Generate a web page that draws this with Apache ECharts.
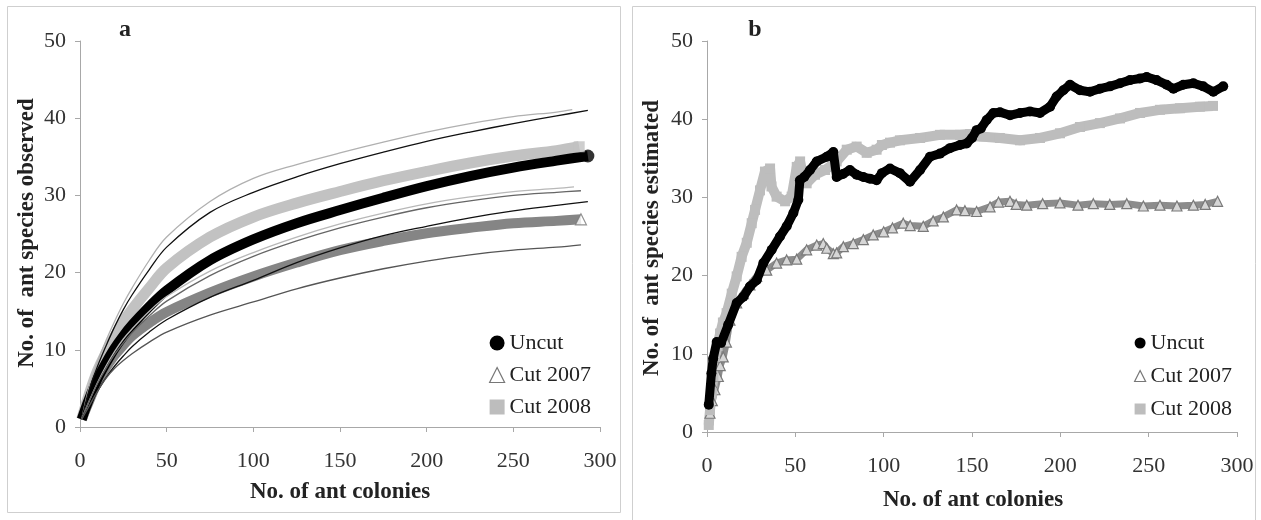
<!DOCTYPE html>
<html>
<head>
<meta charset="utf-8">
<script src="https://cdn.jsdelivr.net/npm/echarts@6/dist/echarts.min.js"></script>
<style>
  html, body { margin: 0; padding: 0; background: #fff; }
  #chart { width: 1261px; height: 520px; }
</style>
</head>
<body>
<div id="chart"></div>
<script>
// ---- panel a: rarefaction curves (observed species) ----
const aColonies = [1, 5, 10, 15, 20, 25, 30, 40, 50, 75, 100, 125, 150, 175, 200, 225, 250, 275]
const aUncutEnd = 293
const aCut2007End = 289
const aCut2008End = 288
const aUncut = [1, 3.5, 6.2, 8.3, 10.2, 11.8, 13.2, 15.6, 17.7, 21.6, 24.3, 26.4, 28.1, 29.7, 31.2, 32.5, 33.6, 34.5, 35.1]
const aCut2008 = [1, 4, 7.2, 9.6, 11.7, 13.6, 15.2, 18.0, 20.6, 24.6, 27.2, 29.0, 30.5, 31.9, 33.1, 34.2, 35.1, 35.8, 36.3]
const aCut2007 = [1, 3.2, 5.8, 7.7, 9.3, 10.6, 11.8, 13.5, 14.9, 17.4, 19.5, 21.3, 22.9, 24.1, 25.1, 25.8, 26.4, 26.7, 26.9]
// confidence limits (end colony count, values)
const aCut2008UpperEnd = 284
const aCut2008Upper = [1, 5, 8.4, 11.2, 13.7, 16.0, 18.0, 21.6, 24.6, 29.2, 32.2, 34.0, 35.5, 36.9, 38.2, 39.3, 40.2, 40.8, 41.1]
const aCut2008LowerEnd = 285
const aCut2008Lower = [1, 3.2, 5.7, 7.9, 9.8, 11.4, 12.7, 15.0, 16.9, 20.2, 22.6, 24.6, 26.3, 27.7, 28.9, 29.8, 30.5, 30.9, 31.1]
const aUncutUpper = [1, 4.6, 7.8, 10.5, 13.0, 15.2, 17.1, 20.4, 23.3, 27.8, 30.4, 32.4, 34.1, 35.6, 37.0, 38.2, 39.3, 40.3, 41.0]
const aUncutLower = [1, 2.6, 4.6, 6.4, 7.9, 9.2, 10.4, 12.3, 13.9, 16.8, 19.0, 21.3, 23.2, 24.8, 26.0, 27.1, 28.0, 28.7, 29.2]
const aCut2007Upper = [1, 3.2, 5.6, 7.6, 9.4, 10.9, 12.2, 14.4, 16.3, 19.6, 22.1, 24.1, 25.8, 27.2, 28.4, 29.3, 30.0, 30.4, 30.6]
const aCut2007Lower = [1, 2.6, 4.6, 6.3, 7.6, 8.6, 9.5, 11.0, 12.3, 14.5, 16.2, 17.9, 19.3, 20.5, 21.5, 22.3, 22.9, 23.3, 23.6]

// ---- panel b: estimated species ----
const bUncutX = [1, 2.5, 3.5, 5.5, 8, 12, 16.8, 20.6, 24.3, 28.1, 31.9, 36.6, 41.3, 45.1, 48.9, 51.7, 52.6, 55, 58.3, 62.1, 67.8, 71.5, 73.4, 77, 80.9, 84.7, 88.5, 92.2, 96, 99, 103.6, 109.2, 114.9, 120.6, 126.2, 131.9, 137.5, 143.2, 147, 150, 152.6, 155, 158.3, 162.1, 165.8, 171.5, 177.2, 182.8, 188.5, 194.2, 197.9, 201.7, 205.5, 211.1, 216.8, 222.4, 228.1, 233.8, 239.4, 245.1, 248.9, 254.5, 260.2, 264, 269.6, 275.3, 280.9, 286.6, 292.2]
const bUncutY = [3.5, 7.5, 9.4, 11.5, 11.4, 13.7, 16.5, 17.3, 18.6, 19.4, 21.6, 23.3, 25.0, 26.3, 28.0, 29.7, 32.2, 32.6, 33.5, 34.6, 35.2, 35.8, 32.6, 33.0, 33.5, 32.9, 32.6, 32.4, 32.2, 33.1, 33.7, 33.1, 32.0, 33.5, 35.2, 35.6, 36.3, 36.7, 36.9, 37.6, 38.6, 38.8, 39.9, 40.8, 40.9, 40.5, 40.8, 41.0, 40.8, 41.6, 42.9, 43.7, 44.4, 43.7, 43.5, 43.9, 44.2, 44.6, 45.0, 45.2, 45.4, 45.0, 44.4, 43.9, 44.4, 44.6, 44.2, 43.5, 44.2]
const bCut2007X = [1.7, 3, 4.5, 6.4, 7.5, 9.2, 11, 13, 16.8, 20.6, 24.3, 28.1, 33.8, 39.4, 45.1, 50.8, 56.4, 62.1, 65.8, 67.8, 71.5, 73.4, 77.2, 82.8, 88.5, 94.1, 100, 105, 111.1, 115, 122.4, 128, 133.8, 141.3, 146, 152.6, 160.2, 165, 171.5, 175, 181, 190, 199.8, 210, 218.7, 228, 237.6, 247, 256.4, 266, 275.3, 282, 289]
const bCut2007Y = [2.4, 4, 5.4, 7.1, 8.5, 9.6, 11.5, 14.3, 16.5, 17.7, 18.8, 19.9, 20.7, 21.6, 22.0, 22.1, 23.3, 23.9, 24.1, 23.5, 22.8, 22.9, 23.7, 24.1, 24.6, 25.2, 25.6, 26.1, 26.7, 26.4, 26.3, 27.0, 27.5, 28.4, 28.3, 28.2, 28.8, 29.4, 29.5, 29.1, 29.0, 29.2, 29.3, 29.0, 29.2, 29.1, 29.2, 28.9, 29.0, 28.9, 29.0, 29.1, 29.5]
const bCut2008X = [1, 1.7, 2.7, 3.6, 4.5, 6, 7.4, 9, 11.1, 14, 16.8, 19.6, 22.5, 25.3, 27.2, 30, 32.8, 35.7, 36.5, 39.4, 44.2, 47.9, 50.8, 52.7, 54.5, 56.4, 61.1, 66.8, 73.4, 79.1, 84.7, 90.4, 96, 99, 103.6, 109.2, 120.6, 131.9, 143.2, 148.9, 154.5, 165.8, 177.2, 188.5, 199.8, 211.1, 222.4, 233.8, 245.1, 256.4, 267.7, 279, 286.4]
const bCut2008Y = [0.9, 2.8, 5, 7.1, 9.6, 11, 12.6, 14, 15.2, 17.7, 19.9, 22.4, 24.2, 26.7, 28.4, 30.9, 33.3, 33.7, 31.4, 30.1, 29.5, 30.1, 33.9, 34.6, 32.6, 31.8, 32.9, 33.5, 34.6, 36.1, 36.5, 35.7, 36.1, 36.7, 37.0, 37.3, 37.6, 38.0, 38.0, 38.1, 37.8, 37.6, 37.3, 37.6, 38.2, 39.0, 39.5, 40.1, 40.8, 41.2, 41.4, 41.6, 41.7]

const xTicks = [0, 50, 100, 150, 200, 250, 300]
const yTicks = [0, 10, 20, 30, 40, 50]

const serif = '"Liberation Serif", "DejaVu Serif", serif'

function zip(xs, ys) {
  return ys.map((y, i) => [xs[i], y])
}
function last(xs, ys) {
  return [[xs[xs.length - 1], ys[ys.length - 1]]]
}

const chart = echarts.init(document.getElementById('chart'))

function xAxisFor(gridIndex) {
  return {
    type: 'value',
    gridIndex,
    min: xTicks[0],
    max: xTicks[xTicks.length - 1],
    interval: xTicks[1] - xTicks[0],
    splitLine: { show: false },
    axisLine: { lineStyle: { color: '#a8a8a8', width: 1 } },
    axisTick: { length: 5, lineStyle: { color: '#a8a8a8' } },
    axisLabel: { color: '#333', fontFamily: serif, fontSize: 22, margin: 23 }
  }
}
function yAxisFor(gridIndex) {
  return {
    type: 'value',
    gridIndex,
    min: yTicks[0],
    max: yTicks[yTicks.length - 1],
    interval: yTicks[1] - yTicks[0],
    splitLine: { show: false },
    axisLine: { show: true, lineStyle: { color: '#a8a8a8', width: 1 } },
    axisTick: { show: true, length: 5, lineStyle: { color: '#a8a8a8' } },
    axisLabel: { color: '#333', fontFamily: serif, fontSize: 22, margin: 14 }
  }
}

const aUncutX = aColonies.concat([aUncutEnd])
const aCut2007X = aColonies.concat([aCut2007End])
const aCut2008X = aColonies.concat([aCut2008End])

function thin(name, xs, ys, color) {
  return {
    name,
    type: 'line',
    xAxisIndex: 0,
    yAxisIndex: 0,
    smooth: 0.35,
    symbol: 'none',
    silent: true,
    z: 4,
    data: zip(xs, ys),
    lineStyle: { color, width: 1.3 }
  }
}
function band(name, xs, ys, color, width) {
  return {
    name,
    type: 'line',
    xAxisIndex: 0,
    yAxisIndex: 0,
    smooth: 0.35,
    symbol: 'none',
    silent: true,
    z: 3,
    data: zip(xs, ys),
    itemStyle: { color },
    lineStyle: { color, width, cap: 'butt', join: 'round' }
  }
}

const legendText = { fontFamily: serif, fontSize: 22, color: '#222', lineHeight: 22 }

chart.setOption({
  animation: false,
  grid: [
    { left: 80, top: 41, width: 520, height: 386 },
    { left: 707, top: 41, width: 530, height: 391 }
  ],
  xAxis: [xAxisFor(0), xAxisFor(1)],
  yAxis: [yAxisFor(0), yAxisFor(1)],
  legend: [
    {
      orient: 'vertical',
      left: 484,
      top: 327,
      itemWidth: 15,
      itemHeight: 15,
      itemGap: 10,
      textStyle: legendText,
      selectedMode: false,
      data: [
        { name: 'Uncut', icon: 'circle', itemStyle: { color: '#000' } },
        { name: 'Cut 2007', icon: 'triangle', itemStyle: { color: '#fff', borderColor: '#777', borderWidth: 1.2 } },
        { name: 'Cut 2008', icon: 'rect', itemStyle: { color: '#bdbdbd' } }
      ]
    },
    {
      orient: 'vertical',
      left: 1129,
      top: 327,
      itemWidth: 11,
      itemHeight: 11,
      itemGap: 11,
      textStyle: legendText,
      selectedMode: false,
      data: [
        { name: 'Uncut', icon: 'circle', itemStyle: { color: '#000' } },
        { name: 'Cut 2007', icon: 'triangle', itemStyle: { color: '#fff', borderColor: '#777', borderWidth: 1.2 } },
        { name: 'Cut 2008', icon: 'rect', itemStyle: { color: '#bdbdbd' } }
      ]
    }
  ],
  graphic: [
    { type: 'rect', shape: { x: 7.5, y: 6.5, width: 613, height: 506 }, style: { fill: 'none', stroke: '#cfcfcf', lineWidth: 1 }, silent: true },
    { type: 'rect', shape: { x: 632.5, y: 6.5, width: 623, height: 530 }, style: { fill: 'none', stroke: '#cfcfcf', lineWidth: 1 }, silent: true },
    { type: 'text', x: 125, y: 30, style: { text: 'a', font: 'bold 24px ' + serif, fill: '#222', align: 'center', verticalAlign: 'middle' } },
    { type: 'text', x: 755, y: 30, style: { text: 'b', font: 'bold 24px ' + serif, fill: '#222', align: 'center', verticalAlign: 'middle' } },
    { type: 'text', x: 340, y: 492, style: { text: 'No. of ant colonies', font: 'bold 23px ' + serif, fill: '#222', align: 'center', verticalAlign: 'middle' } },
    { type: 'text', x: 973, y: 500, style: { text: 'No. of ant colonies', font: 'bold 23px ' + serif, fill: '#222', align: 'center', verticalAlign: 'middle' } },
    { type: 'text', x: 27, y: 233, rotation: Math.PI / 2, style: { text: 'No. of  ant species observed', font: 'bold 23px ' + serif, fill: '#222', align: 'center', verticalAlign: 'middle' } },
    { type: 'text', x: 652, y: 238, rotation: Math.PI / 2, style: { text: 'No. of  ant species estimated', font: 'bold 23px ' + serif, fill: '#222', align: 'center', verticalAlign: 'middle' } }
  ],
  series: [
    // panel a bands
    band('Cut 2007', aCut2007X, aCut2007, '#858585', 10),
    band('Cut 2008', aCut2008X, aCut2008, '#c2c2c2', 11),
    band('Uncut', aUncutX, aUncut, '#000', 10),
    // panel a confidence limits
    thin('2008 upper', aColonies.concat([aCut2008UpperEnd]), aCut2008Upper, '#b0b0b0'),
    thin('uncut upper', aUncutX, aUncutUpper, '#111'),
    thin('2008 lower', aColonies.concat([aCut2008LowerEnd]), aCut2008Lower, '#b8b8b8'),
    thin('2007 upper', aCut2007X, aCut2007Upper, '#666'),
    thin('uncut lower', aUncutX, aUncutLower, '#111'),
    thin('2007 lower', aCut2007X, aCut2007Lower, '#555'),
    // panel a end markers
    {
      name: 'a uncut end', type: 'scatter', xAxisIndex: 0, yAxisIndex: 0, z: 5, silent: true,
      symbol: 'circle', symbolSize: 13, itemStyle: { color: '#000' },
      data: last(aUncutX, aUncut)
    },
    {
      name: 'a 2007 end', type: 'scatter', xAxisIndex: 0, yAxisIndex: 0, z: 5, silent: true,
      symbol: 'triangle', symbolSize: 11, itemStyle: { color: '#fff', borderColor: '#777', borderWidth: 1.2 },
      data: last(aCut2007X, aCut2007)
    },
    {
      name: 'a 2008 end', type: 'scatter', xAxisIndex: 0, yAxisIndex: 0, z: 5, silent: true,
      symbol: 'rect', symbolSize: 11, itemStyle: { color: '#c2c2c2' },
      data: last(aCut2008X, aCut2008)
    },
    // panel b
    {
      name: 'Cut 2007', type: 'line', xAxisIndex: 1, yAxisIndex: 1, z: 3, silent: true,
      symbol: 'triangle', symbolSize: 10,
      itemStyle: { color: '#d6d6d6', borderColor: '#7a7a7a', borderWidth: 1.2 },
      lineStyle: { color: '#8c8c8c', width: 7 },
      data: zip(bCut2007X, bCut2007Y)
    },
    {
      name: 'Cut 2008', type: 'line', xAxisIndex: 1, yAxisIndex: 1, z: 3, silent: true,
      symbol: 'rect', symbolSize: 10,
      itemStyle: { color: '#bdbdbd' },
      lineStyle: { color: '#bdbdbd', width: 10 },
      data: zip(bCut2008X, bCut2008Y)
    },
    {
      name: 'Uncut', type: 'line', xAxisIndex: 1, yAxisIndex: 1, z: 4, silent: true,
      symbol: 'circle', symbolSize: 10,
      itemStyle: { color: '#000' },
      lineStyle: { color: '#000', width: 9, join: 'round' },
      data: zip(bUncutX, bUncutY)
    }
  ]
})
</script>
</body>
</html>
